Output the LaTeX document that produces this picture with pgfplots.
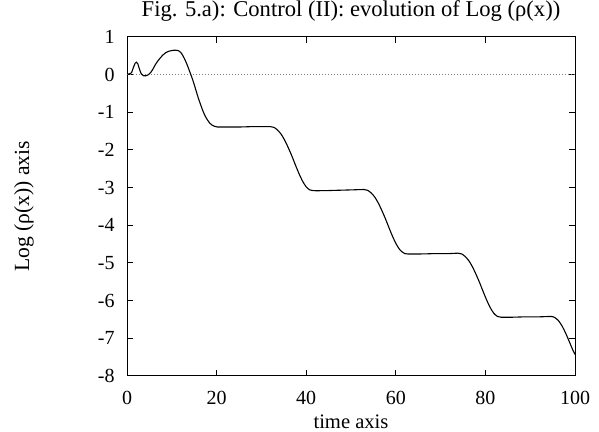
\documentclass[border=0pt]{standalone}
\usepackage{fontspec}
\setmainfont{Liberation Serif}
\usepackage{pgfplots}
\pgfplotsset{compat=1.18}
\begin{document}
\fontsize{10pt}{12pt}\selectfont
\begin{tikzpicture}
\begin{axis}[
  scale only axis,
  width=224pt, height=169.5pt,
  xmin=0, xmax=100, ymin=-8, ymax=1,
  xtick={0,20,40,60,80,100},
  xticklabels={0,20,40,60,80,100},
  ytick={-8,-7,-6,-5,-4,-3,-2,-1,0,1},
  yticklabels={-8,-7,-6,-5,-4,-3,-2,-1,0,1},
  tick align=inside,
  major tick length=3pt,
  minor tick num=0,
  axis line style={line width=0.5pt, black},
  every tick/.style={black, line width=0.5pt},
  xticklabel style={anchor=base, inner sep=0pt, yshift=-14.5pt, font=\fontsize{10pt}{12pt}\selectfont},
  yticklabel style={anchor=east, inner sep=0pt, xshift=-6pt, font=\fontsize{10pt}{12pt}\selectfont},
  every axis title shift=0pt,
  title={Fig. 5.a): Control (II): evolution of Log (ρ(x))},
  title style={at={(axis description cs:0.5,1.059)}, anchor=base, inner sep=0pt, font=\fontsize{11.3pt}{13pt}\selectfont},
  xlabel={time axis},
  xlabel style={at={(axis description cs:0.5,-0.156)}, anchor=base, inner sep=0pt, font=\fontsize{10.3pt}{12pt}\selectfont},
  ylabel={Log (ρ(x)) axis},
  ylabel style={at={(axis description cs:-0.2299,0.5)}, rotate=0, anchor=center, inner sep=0pt, font=\fontsize{10.8pt}{12pt}\selectfont},
  clip=true,
]
\addplot[gray, line width=0.4pt, dash pattern=on 0.5pt off 1pt] coordinates {(0,0) (100,0)};
\addplot[black, line width=0.55pt, smooth, tension=0.4] coordinates {
(0,0.02) (0.5,0.02) (1.0,0.05) (1.4,0.18) (1.8,0.30) (2.1,0.33) (2.4,0.29) (2.8,0.14)
(3.2,0.02) (3.7,-0.03) (4.2,-0.03) (4.8,0.00) (5.3,0.06) (5.8,0.15) (6.3,0.26) (6.8,0.35)
(7.4,0.44) (8.0,0.52) (8.6,0.58) (9.3,0.62) (10.0,0.64) (10.8,0.65) (11.4,0.64) (12.0,0.59)
(12.5,0.50) (13.0,0.38) (13.5,0.24) (14.0,0.08) (14.5,-0.08) (15.0,-0.26) (15.5,-0.46)
(16.0,-0.65) (16.5,-0.82) (17.0,-0.98) (17.5,-1.11) (18.0,-1.21) (18.5,-1.29) (19.0,-1.34)
(19.5,-1.37) (20.2,-1.39) (22,-1.39) (25,-1.39) (28,-1.38) (31,-1.38)
(32.0,-1.38) (32.8,-1.40) (33.6,-1.47) (34.4,-1.58) (35.2,-1.74) (36.0,-1.94) (36.8,-2.16)
(37.6,-2.40) (38.4,-2.63) (39.2,-2.83) (40.0,-2.98) (40.8,-3.06) (41.6,-3.08)
(44,-3.08) (47,-3.07) (50,-3.06)
(52.9,-3.05) (53.7,-3.07) (54.5,-3.14) (55.3,-3.25) (56.1,-3.41) (56.9,-3.61) (57.7,-3.83)
(58.5,-4.07) (59.3,-4.30) (60.1,-4.50) (60.9,-4.65) (61.7,-4.73) (62.5,-4.76)
(66,-4.76) (69,-4.75) (72,-4.75)
(73.9,-4.74) (74.7,-4.76) (75.5,-4.83) (76.3,-4.94) (77.1,-5.10) (77.9,-5.30) (78.7,-5.52)
(79.5,-5.76) (80.3,-5.99) (81.1,-6.19) (81.9,-6.34) (82.7,-6.42) (83.5,-6.44)
(86,-6.44) (89,-6.43) (92,-6.43)
(94.7,-6.42) (95.5,-6.45) (96.3,-6.53) (97.1,-6.67) (97.9,-6.86) (98.7,-7.08) (99.4,-7.28) (100,-7.43)
};
\end{axis}
\pgfresetboundingbox
\useasboundingbox ([xshift=-63.5pt, yshift=-28pt]current axis.south west) rectangle ([xshift=12pt, yshift=18.5pt]current axis.north east);
\end{tikzpicture}
\end{document}
